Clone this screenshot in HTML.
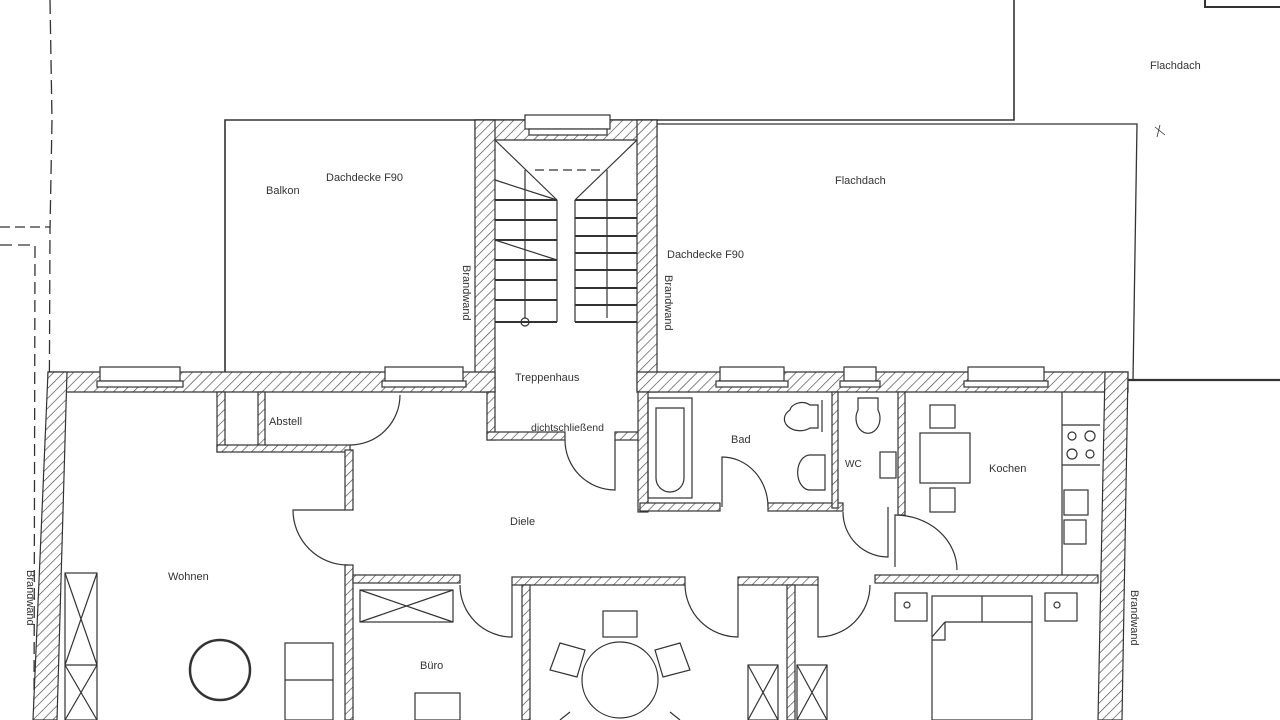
<!DOCTYPE html>
<html><head><meta charset="utf-8"><style>
html,body{margin:0;padding:0;background:#fff;width:1280px;height:720px;overflow:hidden}
svg{display:block}
text{font-family:"Liberation Sans",sans-serif;font-size:11px;fill:#333}
</style></head><body>
<svg width="1280" height="720" viewBox="0 0 1280 720" xmlns="http://www.w3.org/2000/svg">
<defs>
<pattern id="h" patternUnits="userSpaceOnUse" width="7" height="7" patternTransform="rotate(45)">
<rect width="7" height="7" fill="#fff"/><line x1="0" y1="0" x2="0" y2="7" stroke="#444" stroke-width="1.3"/>
</pattern>
</defs>
<g fill="none" stroke="#333" stroke-width="1.3">
<path d="M50 0 L52 120 L50 230 L48 720" stroke-dasharray="14 6"/>
<path d="M0 227 L50 227" stroke-dasharray="10 5"/>
<path d="M0 245 L35 245 L34 720" stroke-dasharray="12 6"/>
<path d="M1014 0 L1014 120 L225 120 L225 372" stroke-width="1.6"/>
<path d="M657 124 L1137 124 L1133 380"/>
<path d="M1128 380 L1280 380" stroke-width="2.2"/>
<path d="M1205 0 L1205 7 L1280 7" stroke-width="2"/>
<path d="M1155 127 L1165 135 M1160 125 L1157 137" stroke-width="0.8"/>
</g>
<g fill="url(#h)" stroke="#333" stroke-width="1.2">
<polygon points="475,120 657,120 657,140 475,140"/>
<polygon points="475,120 495,120 495,392 475,392"/>
<polygon points="637,120 657,120 657,392 637,392"/>
<polygon points="48,372 495,372 495,392 48,392"/>
<polygon points="637,372 1128,372 1128,392 637,392"/>
<polygon points="48,372 67,372 57,720 33,720"/>
<polygon points="1105,372 1128,372 1122,720 1098,720"/>
<rect x="487" y="392" width="8" height="48"/>
<rect x="487" y="432" width="78" height="8"/>
<rect x="615" y="432" width="25" height="8"/>
<rect x="638" y="392" width="10" height="120"/>
<rect x="640" y="503" width="80" height="8"/>
<rect x="768" y="503" width="75" height="8"/>
<rect x="832" y="392" width="6" height="116"/>
<rect x="898" y="392" width="7" height="123"/>
<rect x="875" y="575" width="223" height="8"/>
<rect x="217" y="392" width="8" height="60"/>
<rect x="258" y="392" width="7" height="58"/>
<rect x="217" y="445" width="133" height="7"/>
<rect x="345" y="450" width="8" height="60"/>
<rect x="345" y="565" width="8" height="155"/>
<rect x="353" y="575" width="107" height="8"/>
<rect x="512" y="577" width="173" height="8"/>
<rect x="522" y="585" width="8" height="135"/>
<rect x="738" y="577" width="80" height="8"/>
<rect x="787" y="585" width="8" height="135"/>
</g>
<g fill="#fff" stroke="#333" stroke-width="1.2">
<rect x="100" y="367" width="80" height="14"/><rect x="97" y="381" width="86" height="6"/>
<rect x="385" y="367" width="78" height="14"/><rect x="382" y="381" width="84" height="6"/>
<rect x="525" y="115" width="85" height="14"/><rect x="529" y="129" width="78" height="6"/>
<rect x="720" y="367" width="64" height="14"/><rect x="716" y="381" width="72" height="6"/>
<rect x="844" y="367" width="32" height="14"/><rect x="840" y="381" width="40" height="6"/>
<rect x="968" y="367" width="76" height="14"/><rect x="964" y="381" width="84" height="6"/>
</g>
<g fill="none" stroke="#333" stroke-width="1.2">
<path d="M495 140 L557 200 M637 140 L575 200"/>
<path d="M535 170 L605 170" stroke-dasharray="9 5"/>
<path d="M557 200 L557 322 M575 200 L575 322 M525 170 L525 318 M607 170 L607 318"/>
<g stroke-width="2">
<path d="M495 200 H557 M495 220 H557 M495 240 H557 M495 260 H557 M495 280 H557 M495 300 H557 M495 322 H557"/>
<path d="M575 200 H637 M575 218 H637 M575 236 H637 M575 253 H637 M575 270 H637 M575 288 H637 M575 305 H637 M575 322 H637"/>
</g>
<path d="M495 180 L557 200 M495 240 L557 260"/>
<circle cx="525" cy="322" r="4"/>
<path d="M400 395 A50 50 0 0 1 350 445"/>
<path d="M565 440 A50 50 0 0 0 615 490 L615 440"/>
<path d="M722 507 L722 457 A46 50 0 0 1 768 507"/>
<path d="M843 512 A45 45 0 0 0 888 557 L888 507"/>
<path d="M895 567 L895 515 A62 55 0 0 1 957 570"/>
<path d="M345 510 L293 510 A55 55 0 0 0 348 565"/>
<path d="M460 585 A52 52 0 0 0 512 637 L512 585"/>
<path d="M685 585 A53 53 0 0 0 738 637 L738 585"/>
<path d="M818 585 L818 637 A52 52 0 0 0 870 585"/>
<rect x="648" y="398" width="44" height="100"/>
<path d="M656 408 L684 408 L684 478 A14 14 0 0 1 656 478 Z"/>
<path d="M790 410 A12 9 0 0 1 810 405 L818 405 L818 428 L810 428 A12 9 0 0 1 790 410Z"/>
<path d="M822 400 L822 432"/>
<path d="M810 455 L825 455 L825 490 L810 490 A12 17 0 0 1 810 455Z"/>
<path d="M858 398 L878 398 L878 410 A12 15 0 1 1 858 410Z"/>
<rect x="880" y="452" width="16" height="26"/>
<rect x="920" y="433" width="50" height="50"/>
<rect x="930" y="405" width="25" height="23"/>
<rect x="930" y="488" width="25" height="24"/>
<path d="M1062 392 L1062 575 M1062 425 L1100 425 M1062 465 L1100 465"/>
<circle cx="1072" cy="436" r="4"/><circle cx="1090" cy="436" r="5"/>
<circle cx="1072" cy="454" r="5"/><circle cx="1090" cy="454" r="4"/>
<rect x="1064" y="490" width="24" height="25"/>
<rect x="1064" y="520" width="22" height="24"/>
<rect x="65" y="573" width="32" height="147"/>
<path d="M65 573 L97 665 M97 573 L65 665 M65 665 H97 M65 665 L97 720 M97 665 L65 720"/>
<circle cx="220" cy="670" r="30" stroke-width="2.5"/>
<rect x="285" y="643" width="48" height="77"/>
<path d="M285 680 H333"/>
<rect x="360" y="590" width="93" height="32"/>
<path d="M360 590 L453 622 M453 590 L360 622"/>
<rect x="415" y="693" width="45" height="27"/>
<circle cx="620" cy="680" r="38"/>
<rect x="603" y="611" width="34" height="26"/>
<path d="M560 643 L585 650 L577 677 L550 670 Z"/>
<path d="M680 643 L655 650 L663 677 L690 670 Z"/>
<path d="M570 712 L560 720 M670 712 L680 720"/>
<rect x="748" y="665" width="30" height="55"/><path d="M748 665 L778 720 M778 665 L748 720"/>
<rect x="797" y="665" width="30" height="55"/><path d="M797 665 L827 720 M827 665 L797 720"/>
<rect x="932" y="596" width="100" height="124"/>
<path d="M982 596 L982 622 M945 622 L1032 622 M945 622 L932 637 M945 622 L945 640 L932 640"/>
<rect x="895" y="593" width="32" height="28"/><circle cx="907" cy="605" r="3"/>
<rect x="1045" y="593" width="32" height="28"/><circle cx="1057" cy="605" r="3"/>
</g>
<text x="1150" y="69">Flachdach</text>
<text x="835" y="184">Flachdach</text>
<text x="266" y="194">Balkon</text>
<text x="326" y="181">Dachdecke F90</text>
<text x="667" y="258">Dachdecke F90</text>
<text x="515" y="381">Treppenhaus</text>
<text x="269" y="425">Abstell</text>
<text x="531" y="431" style="font-size:10.5px">dichtschließend</text>
<text x="731" y="443">Bad</text>
<text x="845" y="467" style="font-size:10px">WC</text>
<text x="989" y="472">Kochen</text>
<text x="510" y="525">Diele</text>
<text x="168" y="580">Wohnen</text>
<text x="420" y="669">Büro</text>
<g style="font-size:10px">
<text transform="translate(463,265) rotate(90)">Brandwand</text>
<text transform="translate(665,275) rotate(90)">Brandwand</text>
<text transform="translate(27,570) rotate(90)">Brandwand</text>
<text transform="translate(1131,590) rotate(90)">Brandwand</text>
</g>
</svg>
</body></html>
